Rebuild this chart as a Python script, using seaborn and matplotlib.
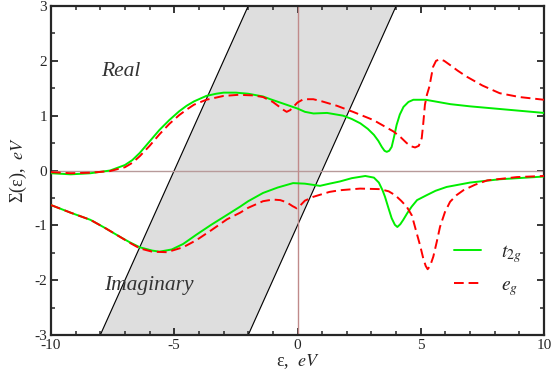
import numpy as np
import pandas as pd
import seaborn as sns
import matplotlib
matplotlib.use('Agg')
import matplotlib.pyplot as plt
from matplotlib.lines import Line2D
from matplotlib.ticker import MultipleLocator


# t2g, real part
t2g_re_x = [-10, -9.2, -8.4, -7.6, -7.0, -6.7, -6.4, -6.0, -5.6, -5.2, -4.8, -4.5, -4.2, -3.7, -3.3,
            -3.0, -2.5, -2.0, -1.4, -1.1, -0.45, 0.0, 0.3, 0.65, 1.2, 1.85, 2.2, 2.55, 2.85, 3.1,
            3.28, 3.42, 3.53, 3.62, 3.72, 3.82, 3.92, 4.02, 4.15, 4.3, 4.5, 4.7, 5.2, 6.2, 7.0, 8.0,
            9.0, 10.0]
t2g_re_y = [-0.05, -0.07, -0.05, 0.0, 0.1, 0.19, 0.32, 0.53, 0.74, 0.92, 1.08, 1.18, 1.26, 1.36,
            1.40, 1.42, 1.42, 1.40, 1.35, 1.30, 1.20, 1.13, 1.07, 1.04, 1.05, 1.00, 0.94, 0.86,
            0.76, 0.65, 0.54, 0.43, 0.36, 0.34, 0.36, 0.43, 0.62, 0.83, 1.02, 1.16, 1.25, 1.29,
            1.29, 1.21, 1.17, 1.13, 1.09, 1.05]

# eg, real part
eg_re_x = [-10, -9.2, -8.4, -7.6, -7.0, -6.7, -6.4, -6.0, -5.6, -5.2, -4.8, -4.5, -4.2, -3.7, -3.3,
           -3.0, -2.4, -1.8, -1.4, -1.0, -0.7, -0.55, -0.44, -0.3, -0.17, 0.0, 0.24, 0.64, 1.0,
           1.6, 2.25, 3.08, 3.9, 4.2, 4.43, 4.62, 4.77, 4.92, 5.04, 5.1, 5.17, 5.25, 5.35, 5.5,
           5.62, 5.78, 5.95, 6.2, 6.5, 6.87, 7.5, 8.2, 9.0, 10.0]
eg_re_y = [-0.03, -0.05, -0.04, -0.01, 0.06, 0.14, 0.26, 0.45, 0.66, 0.85, 1.01, 1.11, 1.20, 1.29,
           1.33, 1.36, 1.38, 1.37, 1.34, 1.25, 1.15, 1.10, 1.07, 1.10, 1.16, 1.24, 1.30, 1.30,
           1.26, 1.18, 1.07, 0.92, 0.71, 0.60, 0.50, 0.44, 0.42, 0.45, 0.59, 0.85, 1.20, 1.38,
           1.53, 1.89, 2.00, 2.03, 2.00, 1.92, 1.82, 1.71, 1.55, 1.41, 1.34, 1.29]

# t2g, imaginary part
t2g_im_x = [-10, -9.2, -8.4, -7.8, -7.2, -6.8, -6.4, -5.9, -5.6, -5.1, -4.64, -4.1, -3.5, -2.86,
            -2.33, -2.0, -1.4, -0.8, -0.18, 0.3, 0.91, 1.3, 1.72, 2.2, 2.75, 3.1, 3.3, 3.45, 3.55,
            3.7, 3.82, 3.95, 4.05, 4.17, 4.29, 4.45, 4.63, 4.85, 5.24, 5.6, 6.05, 7.0, 8.2, 10.0]
t2g_im_y = [-0.63, -0.77, -0.90, -1.05, -1.21, -1.31, -1.40, -1.46, -1.48, -1.44, -1.34, -1.17,
            -0.99, -0.81, -0.66, -0.56, -0.41, -0.31, -0.23, -0.24, -0.28, -0.24, -0.20, -0.14,
            -0.10, -0.13, -0.22, -0.36, -0.48, -0.70, -0.87, -0.99, -1.03, -0.98, -0.90, -0.78,
            -0.66, -0.54, -0.45, -0.37, -0.30, -0.22, -0.16, -0.11]

# eg, imaginary part
eg_im_x = [-10, -9.2, -8.4, -7.8, -7.2, -6.8, -6.4, -5.9, -5.3, -4.64, -4.1, -3.5, -2.86, -2.33,
           -2.0, -1.4, -1.0, -0.7, -0.44, -0.2, -0.03, 0.15, 0.3, 0.64, 1.3, 1.72, 2.54, 3.35,
           3.7, 3.96, 4.2, 4.43, 4.64, 4.84, 4.97, 5.1, 5.2, 5.28, 5.38, 5.51, 5.65, 5.78, 5.98,
           6.19, 6.45, 6.73, 7.2, 7.7, 8.9, 10.0]
eg_im_y = [-0.63, -0.77, -0.90, -1.05, -1.21, -1.32, -1.42, -1.48, -1.49, -1.40, -1.27, -1.09,
           -0.89, -0.77, -0.68, -0.56, -0.53, -0.54, -0.58, -0.65, -0.69, -0.62, -0.55, -0.48,
           -0.39, -0.36, -0.33, -0.34, -0.38, -0.45, -0.55, -0.66, -0.82, -1.15, -1.36, -1.60,
           -1.74, -1.80, -1.74, -1.57, -1.30, -1.03, -0.76, -0.57, -0.45, -0.36, -0.26, -0.18,
           -0.12, -0.10]

# shaded band: eps where its edges meet Sigma = -3 and Sigma = 3
band_bottom = [-8, -2]
band_top = [-2, 4]

frames = []
for orb, part, xs, ys in [('t2g', 're', t2g_re_x, t2g_re_y), ('eg', 're', eg_re_x, eg_re_y),
                          ('t2g', 'im', t2g_im_x, t2g_im_y), ('eg', 'im', eg_im_x, eg_im_y)]:
    frames.append(pd.DataFrame({'eps': xs, 'sigma': ys, 'orbital': orb, 'part': part}))
df = pd.concat(frames, ignore_index=True)

sns.set_style('ticks')
plt.rcParams['font.family'] = ['Liberation Serif', 'DejaVu Serif']
plt.rcParams['mathtext.fontset'] = 'stix'
plt.rcParams['axes.unicode_minus'] = False

fig = plt.figure(figsize=(5.52, 3.79), dpi=100)
ax = fig.add_axes([51 / 552, 1 - 335 / 379, 493 / 552, 329 / 379])

# gray band
ax.fill([band_bottom[0], band_bottom[1], band_top[1], band_top[0]], [-3, -3, 3, 3],
        color='#dedede', zorder=0)
ax.plot([band_bottom[0], band_top[0]], [-3, 3], color='black', lw=0.8, zorder=1)
ax.plot([band_bottom[1], band_top[1]], [-3, 3], color='black', lw=0.8, zorder=1)

ax.axhline(0, color='#b89a9a', lw=1, zorder=1)
ax.axvline(0, color='#c08a8a', lw=1, zorder=1)

colors = {'t2g': '#00ee00', 'eg': '#ff0000'}
dashes = {'t2g': '', 'eg': (5, 2.5)}
sns.lineplot(data=df, x='eps', y='sigma', hue='orbital', style='orbital', units='part',
             estimator=None, palette=colors, dashes=dashes, linewidth=1.4, legend=False,
             ax=ax, zorder=3)

ax.set_xlim(-10, 10)
ax.set_ylim(-3, 3)
ax.xaxis.set_major_locator(MultipleLocator(5))
ax.xaxis.set_minor_locator(MultipleLocator(1))
ax.yaxis.set_major_locator(MultipleLocator(1))
ax.yaxis.set_minor_locator(MultipleLocator(0.5))
ax.tick_params(which='both', direction='in', top=True, right=True, labelsize=11, pad=3)
ax.tick_params(which='major', length=5, width=1.3)
ax.tick_params(which='minor', length=3, width=1.1)
for s in ax.spines.values():
    s.set_linewidth(1.6)

ax.set_xlabel('ε,  $eV$', fontsize=13, labelpad=0)
ax.set_ylabel('Σ(ε),  $eV$', fontsize=13, labelpad=4)

ax.text(-7.15, 1.8, 'Real', fontsize=15.5, style='italic', color='#333333', ha='center',
        va='center')
ax.text(-6.05, -2.09, 'Imaginary', fontsize=15.5, style='italic', color='#333333',
        ha='center', va='center')

handles = [Line2D([], [], color=colors['t2g'], lw=1.4),
           Line2D([], [], color=colors['eg'], lw=1.4, dashes=dashes['eg'])]
ax.legend(handles, ['$t_{2g}$', '$e_g$'], loc='lower right', frameon=False, fontsize=14,
          handlelength=1.4, handletextpad=1.0, labelspacing=0.6,
          bbox_to_anchor=(0.99, 0.06))

fig.savefig('out.png', dpi=100)
